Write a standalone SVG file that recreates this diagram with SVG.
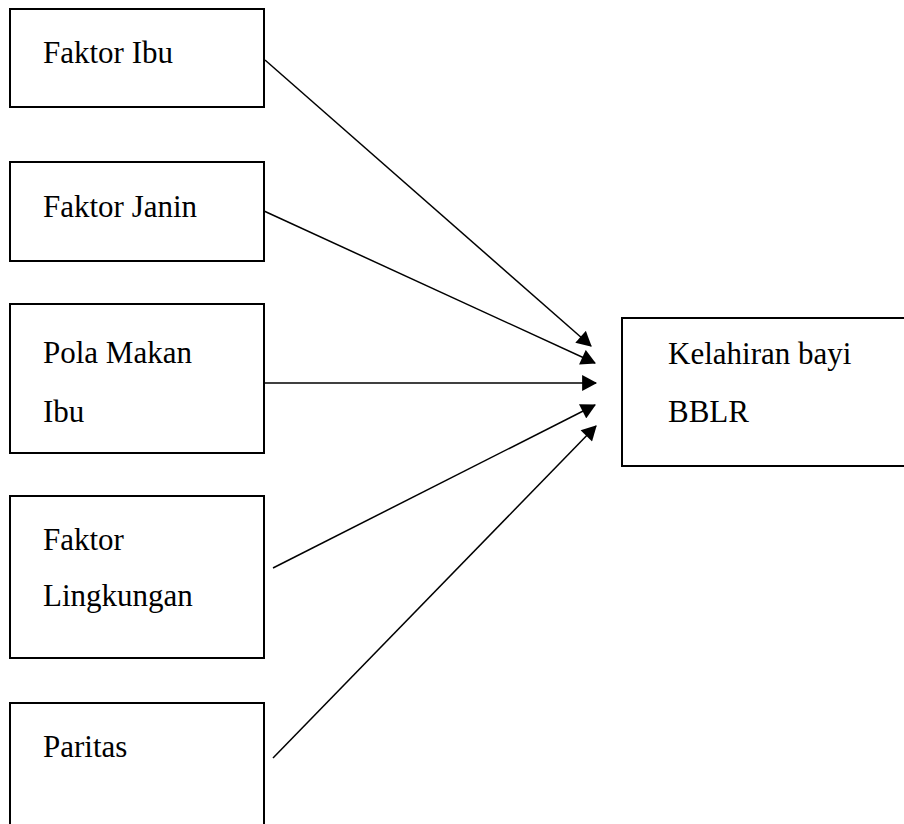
<svg xmlns="http://www.w3.org/2000/svg" width="904" height="824" viewBox="0 0 904 824">
<style>
.box{fill:#fff;stroke:#000;stroke-width:2}
.t{font-family:"Liberation Serif","Times New Roman",serif;font-size:31px;fill:#000}
.c{stroke:#000;stroke-width:1.5;fill:none;marker-end:url(#ah)}
</style>
<defs>
<marker id="ah" markerUnits="userSpaceOnUse" markerWidth="16" markerHeight="16" viewBox="0 0 14 15" refX="13" refY="7.5" orient="auto">
<path d="M0,0 L14,7.5 L0,15 Z" fill="#000"/>
</marker>
</defs>
<rect width="904" height="824" fill="#fff"/>
<g id="n1"><rect class="box" x="10" y="9" width="254" height="98"/><text class="t" x="43" y="63">Faktor Ibu</text></g>
<g id="n2"><rect class="box" x="10" y="162" width="254" height="99"/><text class="t" x="43" y="217">Faktor Janin</text></g>
<g id="n3"><rect class="box" x="10" y="304" width="254" height="149"/><text class="t" x="43" y="363">Pola Makan</text><text class="t" x="43" y="422">Ibu</text></g>
<g id="n4"><rect class="box" x="10" y="496" width="254" height="162"/><text class="t" x="43" y="550">Faktor</text><text class="t" x="43" y="606">Lingkungan</text></g>
<g id="n5"><rect class="box" x="10" y="703" width="254" height="140"/><text class="t" x="43" y="757">Paritas</text></g>
<g id="n6"><rect class="box" x="622" y="318" width="300" height="148"/><text class="t" x="668" y="364">Kelahiran bayi</text><text class="t" x="668" y="422">BBLR</text></g>
<g id="connectors">
<line class="c" x1="265" y1="60" x2="591" y2="346"/>
<line class="c" x1="264" y1="211" x2="595" y2="363"/>
<line class="c" x1="264" y1="383" x2="596" y2="383"/>
<line class="c" x1="273" y1="568" x2="595" y2="405"/>
<line class="c" x1="273" y1="758" x2="596" y2="426"/>
</g>
</svg>
